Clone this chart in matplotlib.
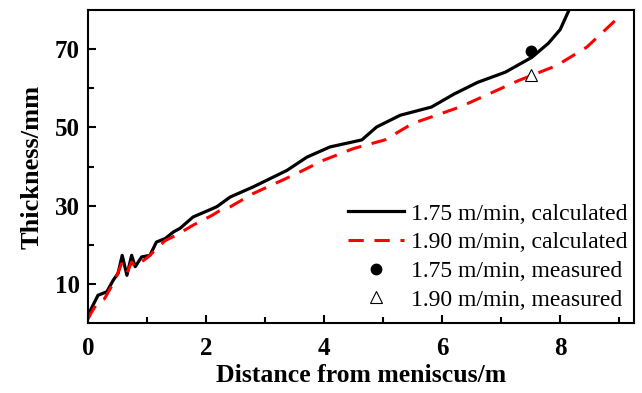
import matplotlib
matplotlib.use("Agg")
import matplotlib.pyplot as plt
from matplotlib.ticker import MultipleLocator, FixedLocator

plt.rcParams["font.family"] = ["Liberation Serif", "DejaVu Serif"]

# Shell thickness along the strand, calculated for two casting speeds
dist_175 = [0.0, 0.03, 0.17, 0.32, 0.43, 0.51, 0.58, 0.66, 0.74, 0.80, 0.91, 1.05,
            1.16, 1.31, 1.45, 1.56, 1.78, 2.18, 2.41, 2.80, 3.37, 3.71, 4.10,
            4.64, 4.89, 5.29, 5.82, 6.2, 6.6, 7.07, 7.52, 7.8, 8.0, 8.15]
thick_175 = [2.5, 2.9, 7.1, 8.0, 11.0, 12.7, 17.3, 12.2, 17.3, 14.4, 16.9, 17.3,
             20.7, 21.6, 23.3, 24.2, 27.1, 29.7, 32.2, 34.8, 39.0, 42.4, 45.0,
             46.8, 50.1, 53.1, 55.2, 58.5, 61.5, 64.1, 67.9, 71.5, 75.0, 80.0]

dist_190 = [0.0, 0.05, 0.17, 0.28, 0.46, 0.57, 0.66, 0.74, 0.80, 1.02, 1.3, 1.5,
            1.78, 2.1, 2.24, 2.41, 2.80, 3.48, 3.99, 4.50, 5.03, 5.5, 6.3, 6.8,
            7.3, 7.94, 8.45, 8.96, 9.02]
thick_190 = [1.0, 2.5, 5.4, 6.2, 11.0, 15.2, 12.8, 15.6, 14.4, 16.9, 21.0, 22.5,
             25.0, 27.5, 28.8, 29.7, 33.1, 37.8, 41.6, 44.6, 46.8, 51.0, 55.2, 58.6,
             62.0, 65.8, 70.5, 77.7, 78.5]

# Measured thickness
meas_dist = [7.5]
meas_175 = [69.6]
meas_190 = [63.5]

fig = plt.figure(figsize=(6.42, 3.93), dpi=100)
ax = fig.add_axes([0.137, 0.178, 0.8505, 0.7966])

ax.plot(dist_175, thick_175, color="black", lw=2.3, label="1.75 m/min, calculated")
ax.plot(dist_190, thick_190, color="red", lw=2.2, ls=(0, (5, 3.5)),
        label="1.90 m/min, calculated")
ax.plot(meas_dist, meas_175, ls="none", marker="o", ms=7.5, color="black",
        label="1.75 m/min, measured")
ax.plot(meas_dist, meas_190, ls="none", marker="^", ms=9, mfc="white",
        mec="black", mew=0.8, label="1.90 m/min, measured")

ax.set_xlim(0, 9.25)
ax.set_ylim(0, 80)
ax.xaxis.set_major_locator(MultipleLocator(2))
ax.xaxis.set_minor_locator(MultipleLocator(1))
ax.yaxis.set_major_locator(FixedLocator([10, 30, 50, 70]))
ax.yaxis.set_minor_locator(FixedLocator([20, 40, 60]))
ax.tick_params(which="both", direction="in", width=1.5, labelsize=18)
ax.tick_params(which="major", length=6)
ax.tick_params(which="minor", length=4)
ax.tick_params(axis="y", pad=6)
ax.tick_params(axis="x", pad=10)
for lab in ax.get_xticklabels() + ax.get_yticklabels():
    lab.set_fontweight("bold")
for sp in ax.spines.values():
    sp.set_linewidth(1.5)

ax.set_xlabel("Distance from meniscus/m", fontsize=18.5, fontweight="bold", labelpad=3)
ax.set_ylabel("Thickness/mm", fontsize=19, fontweight="bold", labelpad=8)

ax.legend(loc="lower right", bbox_to_anchor=(0.989, 0.04), frameon=False,
          fontsize=17, handlelength=2.4, labelspacing=0.3, borderpad=0,
          borderaxespad=0, handletextpad=0.3)

fig.savefig("out.png", dpi=100)
